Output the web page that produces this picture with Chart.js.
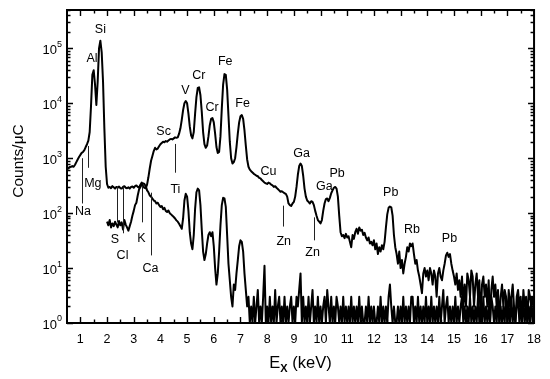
<!DOCTYPE html>
<html>
<head>
<meta charset="utf-8">
<script src="https://cdn.jsdelivr.net/npm/chart.js@4.4.1/dist/chart.umd.min.js"></script>
<style>
  html, body { margin: 0; padding: 0; background: #fff; }
  #wrap { width: 550px; height: 379px; }
</style>
</head>
<body>
<div id="wrap"><canvas id="spectrum"></canvas></div>
<script>
// channel width and first channel of each spectrum (keV)
var keVStep = 0.05;
var upperStart = 0.5;
var lowerStart = 2.0;

// counts/uC, one value per channel
var upperCounts = [
  680, 650, 690, 700, 720, 700, 760, 850, 950, 1050,                                                     // 0.50
  1150, 1250, 1300, 1400, 1600, 1800, 2100, 3000, 9000, 33000, 40000, 22000, 9300, 25000, 100000, 138000, 85000, 25000, 3500, 700, // 1
  340, 290, 300, 285, 310, 295, 280, 300, 290, 305, 285, 280, 300, 310, 290, 285, 295, 280, 300, 305,     // 2
  290, 310, 320, 300, 290, 330, 360, 310, 290, 285, 330, 450, 650, 900, 1100, 1350, 1550, 1450, 1500, 1650, // 3
  1800, 1900, 2000, 1950, 2050, 2000, 2100, 2200, 2250, 2200, 2300, 2400, 2350, 2400, 2800, 3500, 5000, 7500, 10000, 11000, // 4
  10000, 6500, 3800, 2600, 2300, 3000, 6500, 13000, 19000, 19500, 14000, 7000, 3000, 1800, 1550, 1700, 2500, 4000, 5200, 5400, // 5
  4500, 2800, 1600, 1250, 1300, 2500, 8000, 22000, 34000, 33000, 18000, 6000, 2000, 1000, 800, 850, 1000, 1600, 2800, 4500, // 6
  5800, 6100, 5200, 3200, 1700, 950, 700, 620, 580, 550, 520, 500, 480, 470, 440, 430, 400, 380, 360, 350, // 7
  340, 360, 350, 330, 320, 300, 310, 290, 275, 260, 245, 250, 240, 230, 225, 200, 150, 140, 135, 150,     // 8
  160, 200, 300, 500, 720, 800, 720, 480, 280, 200, 170, 160, 150, 165, 160, 140, 110, 90, 75, 70,        // 9
  65, 75, 110, 150, 180, 185, 165, 190, 230, 260, 290, 300, 280, 200, 90, 45, 38, 40, 35, 42,             // 10
  36, 38, 30, 24, 40, 34, 45, 52, 42, 55, 48, 50, 40, 44, 36, 32, 36, 28, 30, 26,                         // 11
  32, 22, 28, 18, 24, 20, 26, 22, 30, 55, 95, 125, 132, 128, 90, 40, 24, 18, 12, 20,                      // 12
  10, 14, 8, 12, 16, 24, 20, 28, 25, 28, 18, 12, 14, 9, 7, 5, 3.5, 8, 10, 7,                              // 13
  9, 6, 10, 8, 5, 9, 7, 3, 8, 10, 7, 6, 9, 12, 17, 19, 16, 18, 12, 9,                                     // 14
  7, 5, 8, 4, 6, 3, 7, 2, 5, 2, 8, 6, 3, 9, 7, 2, 5, 8, 3, 6,                                             // 15
  1, 5, 7, 3, 5, 2, 6, 1, 4, 7, 3, 5, 2, 4, 1, 3, 5, 2, 4, 3,                                             // 16
  1, 4, 2, 3, 5, 2, 1, 3, 4, 2, 3, 1, 4, 2, 3, 1, 4, 3, 2, 3,                                             // 17
  2                                                                                                       // 18
];

var lowerCounts = [
  70, 60, 75, 55, 65, 58, 70, 62, 55, 72, 60, 68, 50, 75, 62, 55, 48, 58, 70, 90,                         // 2
  110, 140, 155, 210, 270, 300, 330, 350, 340, 310, 260, 240, 210, 200, 185, 170, 165, 150, 155, 140,     // 3
  130, 135, 118, 125, 110, 105, 112, 100, 95, 90, 85, 80, 74, 70, 64, 58, 52, 80, 170, 225,               // 4
  200, 110, 45, 28, 22, 40, 120, 240, 280, 260, 140, 50, 20, 14, 18, 28, 40, 45, 38, 45,                  // 5
  25, 10, 5, 8, 20, 60, 140, 190, 185, 130, 40, 12, 6, 3, 2, 5, 4, 8, 14, 25,                             // 6
  32, 30, 20, 8, 4, 2, 3, 1, 2, 1, 3, 1, 2, 4, 1, 2, 1, 3, 11, 1,                                         // 7
  2, 1, 3, 1, 2, 1, 4, 1, 2, 3, 1, 2, 1, 3, 1, 2, 1, 2, 3, 1,                                             // 8
  2, 1, 3, 2, 4, 8, 1, 3, 1, 2, 1, 3, 1, 2, 4, 1, 2, 1, 3, 1,                                             // 9
  2, 1, 2, 3, 1, 4, 2, 1, 3, 1, 2, 1, 3, 2, 1, 2, 1, 3, 1, 2,                                             // 10
  1, 2, 1, 3, 1, 2, 1, 2, 1, 3, 1, 2, 1, 1, 2, 1, 3, 1, 2, 1,                                             // 11
  2, 1, 1, 2, 1, 3, 1, 2, 1, 2, 1, 3, 5, 2, 1, 2, 1, 1, 2, 1,                                             // 12
  2, 1, 3, 1, 2, 1, 2, 1, 3, 3, 1, 2, 1, 3, 1, 2, 1, 2, 1, 3,                                             // 13
  1, 2, 1, 3, 1, 2, 1, 2, 1, 3, 1, 2, 4, 1, 2, 3, 1, 2, 1, 2,                                             // 14
  1, 3, 1, 2, 1, 2, 3, 1, 2, 1, 2, 1, 3, 1, 2, 1, 2, 1, 3, 1,                                             // 15
  2, 1, 3, 1, 2, 1, 2, 1, 3, 2, 1, 2, 1, 3, 1, 2, 1, 2, 1, 3,                                             // 16
  1, 2, 1, 3, 1, 2, 1, 2, 3, 1, 2, 1, 3, 1, 2, 1, 2, 1, 3, 1,                                             // 17
  2                                                                                                       // 18
];

// axes
var xMin = 0.5, xMax = 18;
var yMin = 1, yMax = 5e5;
var xTickValues = [1, 2, 3, 4, 5, 6, 7, 8, 9, 10, 11, 12, 13, 14, 15, 16, 17, 18];
var yDecadeExps = [0, 1, 2, 3, 4, 5];

// element labels: name, energy (keV), counts where the text sits
var peakNames  = ['Si', 'Al', 'Mg', 'Na', 'S', 'Cl', 'K', 'Ca', 'Ti', 'Sc', 'V', 'Cr', 'Cr', 'Fe', 'Fe', 'Cu', 'Ga', 'Zn', 'Zn', 'Ga', 'Pb', 'Pb', 'Rb', 'Pb'];
var peakE      = [1.75, 1.44, 1.47, 1.10, 2.30, 2.58, 3.29, 3.63, 4.56, 4.12, 4.94, 5.44, 5.94, 6.43, 7.08, 8.05, 9.29, 8.62, 9.70, 10.14, 10.62, 12.63, 13.43, 14.83];
var peakCounts = [220000, 64000, 345, 107, 33, 17, 35, 10, 268, 3100, 17000, 32000, 8400, 57000, 10000, 580, 1200, 31, 19, 305, 530, 235, 51, 35];

// leader lines: energy, upper and lower end in counts
var markerE      = [1.07, 1.27, 2.37, 2.60, 3.30, 3.66, 4.56, 8.61, 9.74];
var markerTop    = [1000, 1670, 303, 303, 315, 236, 1820, 137, 84];
var markerBottom = [150, 670, 68, 43, 68, 17, 545, 57, 32];

var fam = '"Liberation Sans", Arial, Helvetica, sans-serif';

function toPoints(start, counts) {
  return counts.map(function (c, i) {
    return { x: +(start + i * keVStep).toFixed(2), y: c };
  });
}

var frame = {
  id: 'frame',
  afterDraw: function (chart) {
    var ctx = chart.ctx, a = chart.chartArea;
    var xs = chart.scales.x, ys = chart.scales.y;
    ctx.save();
    ctx.strokeStyle = '#000';
    ctx.fillStyle = '#000';

    // box
    ctx.lineWidth = 2;
    ctx.strokeRect(a.left, a.top, a.right - a.left, a.bottom - a.top);

    // inward ticks, x (bottom and top)
    ctx.lineWidth = 1.4;
    ctx.beginPath();
    for (var v = 1; v < xMax; v += 0.5) {
      var px = Math.round(xs.getPixelForValue(v)) + 0.5;
      var len = (v % 1 === 0) ? 6 : 3.5;
      ctx.moveTo(px, a.bottom); ctx.lineTo(px, a.bottom - len);
      ctx.moveTo(px, a.top); ctx.lineTo(px, a.top + len);
    }
    // inward ticks, y (left and right)
    yDecadeExps.forEach(function (e) {
      for (var k = 1; k <= 9; k++) {
        var val = k * Math.pow(10, e);
        if (val > yMax) break;
        var py = Math.round(ys.getPixelForValue(val)) + 0.5;
        var l = (k === 1) ? 6 : 3.5;
        ctx.moveTo(a.left, py); ctx.lineTo(a.left + l, py);
        ctx.moveTo(a.right, py); ctx.lineTo(a.right - l, py);
      }
    });
    ctx.stroke();

    // y labels 10^n
    yDecadeExps.forEach(function (e) {
      var py = ys.getPixelForValue(Math.pow(10, e));
      ctx.font = '9px ' + fam;
      var we = ctx.measureText(String(e)).width;
      ctx.textBaseline = 'middle';
      ctx.textAlign = 'left';
      ctx.fillText(String(e), a.left - 5 - we, py - 4);
      ctx.font = '13px ' + fam;
      ctx.textAlign = 'right';
      ctx.fillText('10', a.left - 5 - we, py + 2);
    });

    // y title
    ctx.save();
    ctx.translate(19, 161);
    ctx.rotate(-Math.PI / 2);
    ctx.font = '15.5px ' + fam;
    ctx.textAlign = 'center';
    ctx.textBaseline = 'middle';
    ctx.fillText('Counts/\u03bcC', 0, 0);
    ctx.restore();

    // x title E_X (keV)
    ctx.textAlign = 'left';
    ctx.textBaseline = 'alphabetic';
    ctx.font = '16.5px ' + fam;
    var w1 = ctx.measureText('E').width;
    var w3 = ctx.measureText(' (keV)').width;
    ctx.font = 'bold 11px ' + fam;
    var w2 = ctx.measureText('X').width;
    var x0 = (a.left + a.right) / 2 - (w1 + w2 + w3) / 2;
    var base = 368;
    ctx.font = '16.5px ' + fam;
    ctx.fillText('E', x0, base);
    ctx.font = 'bold 11px ' + fam;
    ctx.fillText('X', x0 + w1, base + 4);
    ctx.font = '16.5px ' + fam;
    ctx.fillText(' (keV)', x0 + w1 + w2, base);

    // leader lines
    ctx.strokeStyle = '#222';
    ctx.lineWidth = 1;
    ctx.beginPath();
    markerE.forEach(function (e, i) {
      var px = Math.round(xs.getPixelForValue(e)) + 0.5;
      ctx.moveTo(px, ys.getPixelForValue(markerTop[i]));
      ctx.lineTo(px, ys.getPixelForValue(markerBottom[i]));
    });
    ctx.stroke();

    // element names
    ctx.font = '12.5px ' + fam;
    ctx.textAlign = 'center';
    ctx.textBaseline = 'middle';
    peakNames.forEach(function (n, i) {
      ctx.fillText(n, xs.getPixelForValue(peakE[i]), ys.getPixelForValue(peakCounts[i]));
    });
    ctx.restore();
  }
};

new Chart(document.getElementById('spectrum'), {
  type: 'line',
  data: {
    datasets: [{
      label: 'upper',
      data: toPoints(upperStart, upperCounts),
      borderColor: '#000',
      borderWidth: 2,
      borderJoinStyle: 'round',
      pointRadius: 0,
      tension: 0
    }, {
      label: 'lower',
      data: toPoints(lowerStart, lowerCounts),
      borderColor: '#000',
      borderWidth: 2,
      borderJoinStyle: 'round',
      pointRadius: 0,
      tension: 0
    }]
  },
  options: {
    responsive: true,
    maintainAspectRatio: false,
    animation: false,
    devicePixelRatio: 1,
    layout: { padding: { top: 10, right: 15, left: 0, bottom: 0 } },
    plugins: { legend: { display: false }, tooltip: { enabled: false } },
    scales: {
      x: {
        type: 'linear',
        min: xMin,
        max: xMax,
        grid: { display: false, drawTicks: false },
        border: { display: false },
        afterBuildTicks: function (s) { s.ticks = xTickValues.map(function (v) { return { value: v }; }); },
        ticks: {
          autoSkip: false,
          maxRotation: 0,
          padding: 9,
          color: '#000',
          font: { family: fam, size: 12.5 }
        },
        afterFit: function (s) { s.height = 56; }
      },
      y: {
        type: 'logarithmic',
        min: yMin,
        max: yMax,
        grid: { display: false, drawTicks: false },
        border: { display: false },
        ticks: { display: false },
        afterFit: function (s) { s.width = 67; }
      }
    }
  },
  plugins: [frame]
});
</script>
</body>
</html>
